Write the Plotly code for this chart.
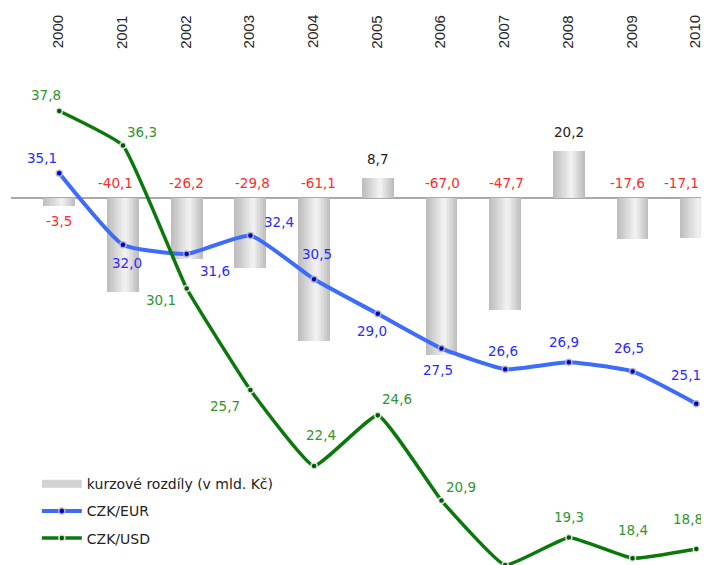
import plotly.graph_objects as go

# ---------------- data ----------------
years = ['2000', '2001', '2002', '2003', '2004', '2005', '2006', '2007', '2008', '2009', '2010']
kurz_rozdily = [-3.5, -40.1, -26.2, -29.8, -61.1, 8.7, -67.0, -47.7, 20.2, -17.6, -17.1]
czk_eur = [35.1, 32.0, 31.6, 32.4, 30.5, 29.0, 27.5, 26.6, 26.9, 26.5, 25.1]
czk_usd = [37.8, 36.3, 30.1, 25.7, 22.4, 24.6, 20.9, 18.1, 19.3, 18.4, 18.8]

bar_name = 'kurzové rozdíly (v mld. Kč)'
eur_name = 'CZK/EUR'
usd_name = 'CZK/USD'

# ---------------- styling ----------------
LABEL_FONT = 'DejaVu Sans'
LABEL_SIZE = 13.5
EUR_LINE = '#3d6cfb'
EUR_TEXT = '#2a2aff'
USD_LINE = '#0a780a'
USD_TEXT = '#2f962f'
NEG_TEXT = '#ff2b2b'
POS_TEXT = '#222222'

# label offsets in pixels (dx right, dy down)
eur_off = [(-17, -15), (4, 18), (28, 17), (29, -13), (3, -25), (-6, 17),
           (-3, 22), (-2, -18), (-5, -20), (-4, -23), (-10, -29)]
usd_off = [(-13, -16), (19, -14), (-26, 12), (-25, 16), (7, -31), (19, -16),
           (20, -14), (10, -25), (0, -20), (0, -28), (-8, -30)]
bar_dx = [0, -7, 0, 2, 4, 0, 1, 1, 0, -5, -15]

# page body has an 8px default margin; figure is placed at (8, 8)
PAGE = 8
W, H = 709 - PAGE, 565 - PAGE


def fmt(v):
    return f'{v:.1f}'.replace('.', ',')


xs = list(range(len(years)))

fig = go.Figure()

# bars with a horizontal "cylinder" gradient built from layered bars
n_layers = 9
full_w = 0.5
c_edge = (190, 190, 190)
c_mid = (240, 240, 240)
for k in range(n_layers):
    t = k / (n_layers - 1)
    w = full_w * (1 - 0.88 * t)
    shift = 0.035 * t
    col = tuple(int(c_edge[j] + (c_mid[j] - c_edge[j]) * t) for j in range(3))
    fig.add_trace(go.Bar(
        x=xs, y=kurz_rozdily, width=w, offset=-w / 2 + shift,
        marker=dict(color=f'rgb{col}', line=dict(width=0)),
        showlegend=False, name=bar_name, legendgroup='bars', yaxis='y'))

# legend proxy for the bars
fig.add_trace(go.Scatter(
    x=[None], y=[None], mode='lines', name=bar_name,
    line=dict(color='#d2d2d2', width=8), legendgroup='bars', yaxis='y'))

fig.add_trace(go.Scatter(
    x=xs, y=czk_eur, name=eur_name, mode='lines+markers', yaxis='y2',
    line=dict(color=EUR_LINE, width=4, shape='spline', smoothing=0.45),
    marker=dict(size=6, color='#0000cc', line=dict(color='rgba(185,185,185,0.9)', width=1.5)),
    legendgroup='eur'))

fig.add_trace(go.Scatter(
    x=xs, y=czk_usd, name=usd_name, mode='lines+markers', yaxis='y2',
    line=dict(color=USD_LINE, width=3.5, shape='spline', smoothing=0.35),
    marker=dict(size=6, color='#005a00', line=dict(color='rgba(235,235,235,0.9)', width=1.5)),
    legendgroup='usd'))

annotations = []
# year labels at the top
for i, yr in enumerate(years):
    annotations.append(dict(
        x=i, y=1 - (32 - PAGE) / H, xref='x', yref='paper', text=yr, showarrow=False,
        textangle=-90, xanchor='center', yanchor='middle', xshift=-1,
        font=dict(family='Liberation Sans', size=15, color='#262626')))

# bar value labels
for i, v in enumerate(kurz_rozdily):
    if v >= 0:
        ya, ys, col = v, 19, POS_TEXT
    elif i == 0:
        ya, ys, col = 0, -23, NEG_TEXT
    else:
        ya, ys, col = 0, 15, NEG_TEXT
    annotations.append(dict(
        x=i, y=ya, xref='x', yref='y', text=fmt(v), showarrow=False,
        xshift=bar_dx[i], yshift=ys, xanchor='center', yanchor='middle',
        font=dict(family=LABEL_FONT, size=LABEL_SIZE, color=col)))

# line value labels
for vals, offs, col in ((czk_eur, eur_off, EUR_TEXT), (czk_usd, usd_off, USD_TEXT)):
    for i, (v, (dx, dy)) in enumerate(zip(vals, offs)):
        annotations.append(dict(
            x=i, y=v, xref='x', yref='y2', text=fmt(v), showarrow=False,
            xshift=dx, yshift=-dy, xanchor='center', yanchor='middle',
            font=dict(family=LABEL_FONT, size=LABEL_SIZE, color=col)))

zero_px = 198 - PAGE
top_px = 111 - PAGE
fig.update_layout(
    width=W, height=H,
    margin=dict(l=11 - PAGE, r=0, t=0, b=0, autoexpand=False),
    paper_bgcolor='white', plot_bgcolor='white',
    barmode='overlay', bargap=0,
    showlegend=True,
    legend=dict(
        x=0.037, y=0.174, xanchor='left', yanchor='top',
        traceorder='grouped', tracegroupgap=6, itemwidth=40,
        bgcolor='rgba(0,0,0,0)',
        font=dict(family=LABEL_FONT, size=14, color='#222222')),
    xaxis=dict(range=[-0.758, 10.2], showticklabels=False,
               showgrid=False, zeroline=False, showline=False, ticks=''),
    yaxis=dict(range=[(zero_px - H) / 2.34, zero_px / 2.34], showticklabels=False,
               showgrid=False, zeroline=True, zerolinecolor='#a9a9a9',
               zerolinewidth=1.5, showline=False, ticks=''),
    yaxis2=dict(range=[37.8 - (H - top_px) / 23.05, 37.8 + top_px / 23.05], overlaying='y',
                showticklabels=False, showgrid=False, zeroline=False,
                showline=False, ticks=''),
    annotations=annotations,
)

fig.write_html('out.html')
